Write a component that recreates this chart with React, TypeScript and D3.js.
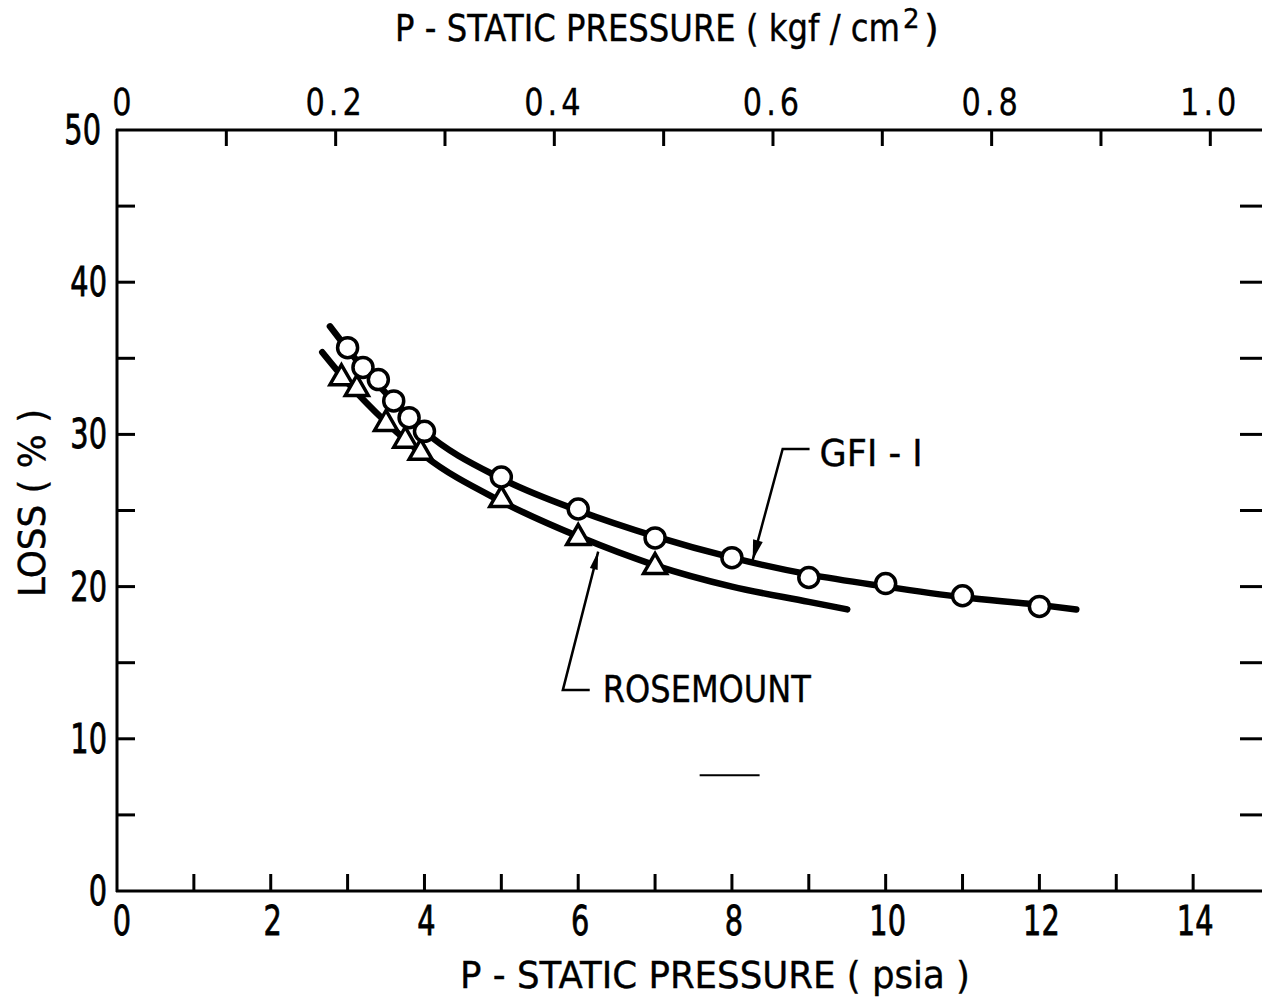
import * as d3 from 'd3';
import React from 'react';

// GFI-I measured points (psia, loss %)
const gfiPsia = [3, 3.2, 3.4, 3.6, 3.8, 4, 5, 6, 7, 8, 9, 10, 11, 12];
const gfiLoss = [35.7, 34.4, 33.6, 32.2, 31.1, 30.2, 27.2, 25.1, 23.2, 21.9, 20.6, 20.2, 19.4, 18.7];

// Rosemount measured points
const rosePsia = [2.92, 3.12, 3.5, 3.75, 3.95, 5, 6, 7];
const roseLoss = [33.7, 33.0, 30.7, 29.6, 28.8, 25.7, 23.2, 21.3];

// faired curves
const gfiCurvePsia = [2.77, 3.0, 3.5, 4.0, 5, 6, 7, 8, 9, 10, 11, 12, 12.48];
const gfiCurveLoss = [37.1, 35.6, 32.7, 30.2, 27.1, 25.0, 23.3, 21.9, 20.8, 20.0, 19.3, 18.8, 18.5];
const roseCurvePsia = [2.67, 3.0, 3.5, 4.0, 5, 6, 7, 8, 9, 9.5];
const roseCurveLoss = [35.4, 33.4, 30.8, 28.6, 25.6, 23.3, 21.4, 20.0, 19.0, 18.5];

// tick labels
const bottomLabels = [0, 2, 4, 6, 8, 10, 12, 14];
const leftLabels = [0, 10, 20, 30, 40, 50];
const topLabels = ['0', '0.2', '0.4', '0.6', '0.8', '1.0'];

const PSI_PER_KGF = 14.2233;
const FONT = "'DejaVu Sans', 'Liberation Sans', sans-serif";

// narrow text, the scan uses a condensed face
function Narrow({ x, y, sx = 0.78, anchor = 'middle', children, ...rest }: any) {
  return (
    <text transform={`translate(${x},${y}) scale(${sx},1)`} textAnchor={anchor} {...rest}>
      {children}
    </text>
  );
}

export default function App() {
  const width = 1262;
  const height = 999;
  const left = 117;
  const bottom = 891;
  const top = 130;
  const right = 1270;

  const x = d3.scaleLinear().domain([0, 15]).range([left, right]);
  const xk = d3.scaleLinear().domain([0, 15 / PSI_PER_KGF]).range([left, right]);
  const y = d3.scaleLinear().domain([0, 50]).range([bottom, top]);

  const line = d3
    .line<[number, number]>()
    .x(d => x(d[0]))
    .y(d => y(d[1]))
    .curve(d3.curveMonotoneX);

  const gfiCurve = gfiCurvePsia.map((p, i) => [p, gfiCurveLoss[i]] as [number, number]);
  const roseCurve = roseCurvePsia.map((p, i) => [p, roseCurveLoss[i]] as [number, number]);

  const bottomTicks = d3.range(1, 15);
  const sideTicks = d3.range(5, 50, 5);
  const topTicks = d3.range(1, 11).map(v => v / 10);

  const tri = (cx: number, cy: number, s: number) => {
    const h = (s * Math.sqrt(3)) / 2;
    return `M${cx},${cy - (2 * h) / 3}L${cx + s / 2},${cy + h / 3}L${cx - s / 2},${cy + h / 3}Z`;
  };

  // leader geometry (data units)
  const gTip = [x(8.27), y(21.75)];
  const gElbow = [x(8.66), y(29.04)];
  const gEnd = [x(9.01), y(29.04)];
  const rTip = [x(6.26), y(22.3)];
  const rElbow = [x(5.8), y(13.2)];
  const rEnd = [x(6.15), y(13.2)];

  const arrowHead = (tip: number[], from: number[], len: number, w: number) => {
    const dx = tip[0] - from[0];
    const dy = tip[1] - from[1];
    const d = Math.hypot(dx, dy);
    const ux = dx / d;
    const uy = dy / d;
    const bx = tip[0] - ux * len;
    const by = tip[1] - uy * len;
    return `M${tip[0]},${tip[1]}L${bx - uy * w},${by + ux * w}L${bx + uy * w},${by - ux * w}Z`;
  };

  return (
    <div style={{ position: 'absolute', left: 0, top: 0 }}>
      <svg width={width} height={height} style={{ display: 'block', background: '#fff' }}>
        <g fill="none" stroke="#000" strokeWidth={3}>
          {/* frame */}
          <line x1={left} x2={left} y1={top - 1} y2={bottom + 1} />
          <line x1={left - 1} x2={width} y1={bottom} y2={bottom} />
          <line x1={left - 1} x2={width} y1={top} y2={top} />
          <line x1={right} x2={right} y1={top} y2={bottom} />
          {bottomTicks.map(t => (
            <line key={'b' + t} x1={x(t)} x2={x(t)} y1={bottom} y2={bottom - 17} />
          ))}
          {sideTicks.map(t => (
            <line key={'l' + t} x1={left} x2={left + 18} y1={y(t)} y2={y(t)} />
          ))}
          {sideTicks.map(t => (
            <line key={'r' + t} x1={right} x2={right - 30} y1={y(t)} y2={y(t)} />
          ))}
          {topTicks.map(t => (
            <line key={'t' + t} x1={xk(t)} x2={xk(t)} y1={top} y2={top + 16} />
          ))}
        </g>

        <g fontFamily={FONT} fontSize={40} fill="#000" stroke="#000" strokeWidth={0.8}>
          {bottomLabels.map(v => (
            <Narrow key={'bl' + v} x={x(v) + (v === 0 ? 5 : 2)} y={bottom + 44} sx={0.72}>
              {v}
            </Narrow>
          ))}
          {leftLabels.map(v => (
            <Narrow key={'ll' + v} x={left - (v === 50 ? 16 : 10)} y={y(v) + 14} sx={0.72} anchor="end">
              {v}
            </Narrow>
          ))}
          {topLabels.map((v, i) => (
            <Narrow
              key={'tl' + v}
              x={xk(i * 0.2) + (i === 0 ? 5 : 0)}
              y={top - 15}
              sx={0.8}
              fontSize={38}
              strokeWidth={0.3}
              letterSpacing={i === 0 ? 0 : 5}
            >
              {v}
            </Narrow>
          ))}
        </g>

        <g fontFamily={FONT} fontSize={38} fill="#000" stroke="#000" strokeWidth={0.4}>
          <Narrow x={395} y={41} sx={0.85} anchor="start">
            P - STATIC PRESSURE ( kgf / cm
          </Narrow>
          <text x={903} y={28} fontSize={26}>2</text>
          <text x={924} y={41}>)</text>
          <text x={460} y={988} textLength={510} lengthAdjust="spacingAndGlyphs">
            P - STATIC  PRESSURE  ( psia )
          </text>
          <text
            transform={`translate(45, ${y(25.5)}) rotate(-90)`}
            textAnchor="middle"
            textLength={188}
            lengthAdjust="spacingAndGlyphs"
          >
            LOSS  ( % )
          </text>
          <text x={x(9.14)} y={y(27.92)} textLength={103} lengthAdjust="spacingAndGlyphs">
            GFI - I
          </text>
          <text x={x(6.32)} y={y(12.42)} textLength={208} lengthAdjust="spacingAndGlyphs">
            ROSEMOUNT
          </text>
        </g>

        {/* curves */}
        <path d={line(gfiCurve) ?? ''} fill="none" stroke="#000" strokeWidth={6.5} strokeLinecap="round" />
        <path d={line(roseCurve) ?? ''} fill="none" stroke="#000" strokeWidth={6.5} strokeLinecap="round" />

        {/* leaders */}
        <g stroke="#000" strokeWidth={2.5} fill="none">
          <polyline points={`${gEnd[0]},${gEnd[1]} ${gElbow[0]},${gElbow[1]} ${gTip[0]},${gTip[1]}`} />
          <polyline points={`${rEnd[0]},${rEnd[1]} ${rElbow[0]},${rElbow[1]} ${rTip[0]},${rTip[1]}`} />
          <line x1={x(7.58)} x2={x(8.36)} y1={y(7.6)} y2={y(7.6)} strokeWidth={2} />
        </g>
        <path d={arrowHead(gTip, gElbow, 20, 5)} fill="#000" />
        <path d={arrowHead(rTip, rElbow, 18, 4)} fill="#000" />

        {/* markers */}
        <g fill="#fff" stroke="#000" strokeWidth={3.5}>
          {rosePsia.map((p, i) => (
            <path key={'r' + i} d={tri(x(p), y(roseLoss[i]), 23)} strokeLinejoin="miter" />
          ))}
          {gfiPsia.map((p, i) => (
            <circle key={'g' + i} cx={x(p)} cy={y(gfiLoss[i])} r={10} />
          ))}
        </g>
      </svg>
    </div>
  );
}
